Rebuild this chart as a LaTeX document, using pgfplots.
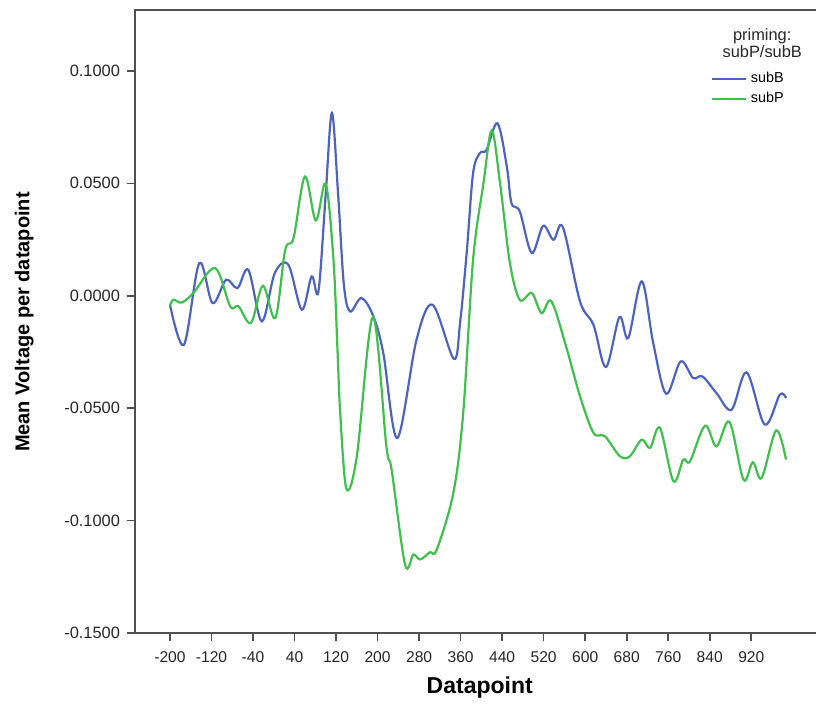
\documentclass[border=0pt]{standalone}
\usepackage{pgfplots}
\pgfplotsset{compat=1.18}
\usepackage{fontspec}
\setmainfont{Liberation Sans}
\definecolor{subBc}{RGB}{78,100,188}
\definecolor{subPc}{RGB}{64,190,80}
\definecolor{axgray}{RGB}{80,80,80}
\begin{document}
\begin{tikzpicture}
\useasboundingbox (0,0) rectangle (408pt,352pt);
\begin{axis}[
  at={(67.5pt,35.5pt)}, anchor=south west,
  scale only axis, width=342pt, height=311.5pt,
  xmin=-267.4, xmax=1050.5, ymin=-0.15, ymax=0.1271,
  axis line style={draw=axgray, line width=0.9pt},
  xtick={-200,-120,-40,40,120,200,280,360,440,520,600,680,760,840,920},
  xticklabels={-200,-120,-40,40,120,200,280,360,440,520,600,680,760,840,920},
  ytick={-0.15,-0.1,-0.05,0,0.05,0.1},
  yticklabels={-0.1500,-0.1000,-0.0500,0.0000,0.0500,0.1000},
  xtick pos=bottom, ytick pos=left,
  tick align=outside, major tick length=4pt,
  tick style={draw=axgray, line width=0.8pt},
  x tick label style={font=\fontsize{7.8}{9}\selectfont, text=black!85, yshift=-2pt},
  y tick label style={font=\fontsize{8.2}{9.6}\selectfont, text=black!85},
  xlabel={\textbf{Datapoint}},
  ylabel={\textbf{Mean Voltage per datapoint}},
  xlabel style={font=\fontsize{11.5}{13}\selectfont, at={(axis description cs:0.504,-0.088)}, anchor=center},
  ylabel style={font=\fontsize{10}{12}\selectfont, at={(axis description cs:-0.162,0.499)}, anchor=center, rotate=0},
  legend style={draw=none, fill=none, at={(0.838,0.91)}, anchor=north west,
    font=\fontsize{7.2}{8}\selectfont, row sep=-1pt, inner sep=1pt},
  legend cell align=left,
  clip=false,
]
\addplot[subBc, line width=1.1pt, smooth, tension=0.55] coordinates {
(-200,-0.004) (-173,-0.0218) (-143.5,0.0145) (-118,-0.0033) (-92,0.0071) (-70,0.0034)
(-49,0.0115) (-23,-0.0114) (2,0.0101) (28,0.0138) (54,-0.0062) (73,0.0086) (86,0.0019)
(100,0.045) (112,0.0813) (124,0.045) (135,0.005) (147,-0.007) (169,-0.001) (192,-0.0092) (211,-0.0255)
(238,-0.0633) (275,-0.0196) (306,-0.004) (347,-0.0281) (359,-0.012) (372,0.02) (384,0.0545)
(397,0.0634) (410,0.0649) (431,0.0767) (449,0.0575) (458,0.0412) (474,0.0375) (497,0.019)
(519,0.0311) (539,0.0249) (557,0.0305) (590,-0.0025) (616,-0.013) (640,-0.0317) (666,-0.0095)
(683,-0.0188) (709,0.0064) (731,-0.021) (756,-0.0436) (784,-0.0292) (808,-0.0366) (826,-0.0359)
(853,-0.0433) (882,-0.0507) (911,-0.0341) (946,-0.0573) (975,-0.044) (987,-0.0455)
};
\addlegendentry{subB}
\addplot[subPc, line width=1.1pt, smooth, tension=0.55] coordinates {
(-200,-0.0047) (-194,-0.0018) (-177,-0.003) (-155,0.0012) (-113,0.0123) (-84,-0.0047)
(-68,-0.0047) (-44,-0.0121) (-21,0.0044) (3,-0.0099) (22,0.0204) (38,0.0256) (60,0.053)
(81,0.0335) (100,0.0498) (115,0.016) (123,-0.0255) (128,-0.052) (140,-0.0859) (160,-0.0714)
(191,-0.0095) (217,-0.067) (227,-0.0773) (253,-0.1196) (269,-0.1151) (282,-0.1173)
(301,-0.1141) (314,-0.1129) (346,-0.0877) (365,-0.0521) (384,0.016) (404,0.05)
(420,0.0735) (436,0.05) (455,0.0145) (474,-0.0018) (497,0.0012) (516,-0.0077) (535,-0.0025)
(564,-0.0232) (590,-0.0447) (616,-0.061) (638,-0.0625) (667,-0.0714) (686,-0.0714)
(709,-0.064) (725,-0.0677) (744,-0.0588) (770,-0.0825) (789,-0.0729) (802,-0.0736)
(831,-0.0578) (853,-0.067) (878,-0.0561) (905,-0.0818) (923,-0.0741) (940,-0.081)
(968,-0.0599) (987,-0.0729)
};
\addlegendentry{subP}
\node[align=center, font=\fontsize{8.2}{8.5}\selectfont, text=black!85, inner sep=0pt]
  at (axis description cs:0.917,0.947) {priming:\\subP/subB};
\end{axis}
\end{tikzpicture}
\end{document}
